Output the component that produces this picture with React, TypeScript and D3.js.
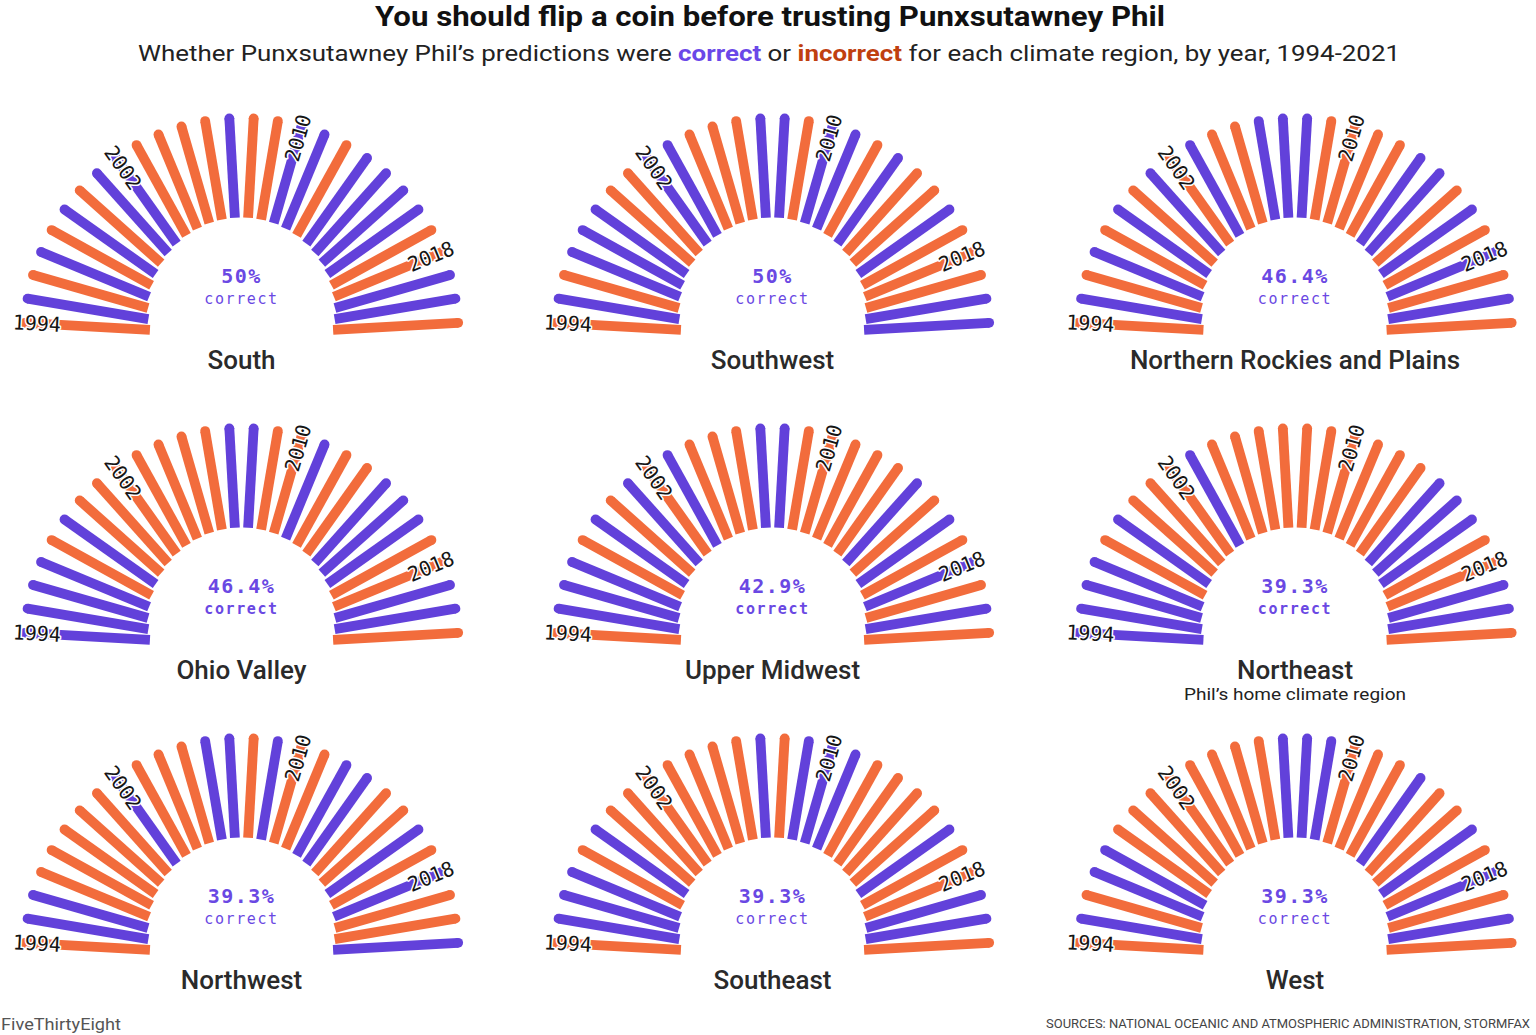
import React, { useEffect } from 'react';
import * as d3 from 'd3';

// ---------- data ----------
const YEARS = [1994, 1995, 1996, 1997, 1998, 1999, 2000, 2001, 2002, 2003, 2004, 2005, 2006, 2007,
  2008, 2009, 2010, 2011, 2012, 2013, 2014, 2015, 2016, 2017, 2018, 2019, 2020, 2021];
const LABEL_YEARS = [1994, 2002, 2010, 2018];

// 1 = correct, 0 = incorrect
const south = [0,1,0,1,0,1,0,1, 1,0,0,0,0,1,0,0, 1,1,0,1,1,1,1,0, 0,1,1,0];
const southwest = [0,1,0,1,1,1,0,0, 1,1,0,0,0,1,1,0, 1,1,0,1,0,0,1,0, 0,0,1,1];
const northernRockies = [0,1,0,1,0,1,0,1, 0,1,0,0,1,1,1,0, 0,0,0,1,1,0,1,0, 1,0,1,0];
const ohioValley = [1,1,1,1,0,1,0,0, 0,0,0,0,0,1,1,0, 0,1,0,0,1,1,1,0, 0,1,1,0];
const upperMidwest = [0,1,1,1,0,1,0,1, 0,1,0,0,0,1,1,0, 0,0,0,0,1,0,1,0, 1,0,1,0];
const northeast = [1,1,1,1,0,1,0,0, 0,1,0,0,0,0,0,0, 0,0,0,0,1,1,1,0, 0,1,1,0];
const northwest = [0,1,1,0,0,0,0,0, 1,0,0,0,1,1,0,1, 0,0,1,1,0,0,1,0, 1,0,0,1];
const southeast = [0,1,1,1,0,1,0,0, 0,0,0,0,0,1,0,1, 1,1,0,0,0,0,1,0, 0,1,1,0];
const west = [0,1,0,1,1,0,0,0, 0,0,0,0,0,1,1,1, 0,0,0,1,0,0,1,0, 1,0,1,0];

const REGION_NAMES = ['South', 'Southwest', 'Northern Rockies and Plains', 'Ohio Valley', 'Upper Midwest',
  'Northeast', 'Northwest', 'Southeast', 'West'];
const REGION_VALUES = [south, southwest, northernRockies, ohioValley, upperMidwest, northeast, northwest, southeast, west];
const PCT_LABELS = ['50%', '50%', '46.4%', '46.4%', '42.9%', '39.3%', '39.3%', '39.3%', '39.3%'];
const REGION_NOTES = ['', '', '', '', '', 'Phil\u2019s home climate region', '', '', ''];

// ---------- style ----------
const W = 1536;
const H = 1035;
const PURPLE = '#6241da';
const ORANGE = '#f26c3c';
const TEXT_PURPLE = '#6a48e3';
const COL_X = [241.5, 772.5, 1295];
const ROW_Y = [335, 645, 955];
const OUTER_R = 217;
const HOLE_R = 93.5;
const HOLE_OFF = 24;
const BAR_W = 9.8;
const LABEL_R = 205;

const angle = d3.scalePoint<number>().domain(YEARS).range([-Math.PI / 2, Math.PI / 2]).padding(0.5);
const color = d3.scaleOrdinal<number, string>().domain([1, 0]).range([PURPLE, ORANGE]);

const innerR = (a: number) =>
  HOLE_OFF * Math.cos(a) + Math.sqrt(HOLE_R * HOLE_R - HOLE_OFF * HOLE_OFF * Math.sin(a) * Math.sin(a));

function Panel({ idx }: { idx: number }) {
  const cx = COL_X[idx % 3];
  const cy = ROW_Y[Math.floor(idx / 3)];
  const values = REGION_VALUES[idx];
  const midRow = Math.floor(idx / 3) === 1;
  return (
    <g transform={`translate(${cx},${cy})`}>
      {YEARS.map((yr, i) => {
        const a = angle(yr) as number;
        const [x1, y1] = d3.pointRadial(a, innerR(a));
        const [x2, y2] = d3.pointRadial(a, OUTER_R);
        const c = color(values[i]);
        return (
          <g key={yr}>
            <line x1={x1} y1={y1} x2={x2} y2={y2} stroke={c} strokeWidth={BAR_W} strokeLinecap="butt" />
            <circle cx={x2} cy={y2} r={BAR_W / 2} fill={c} />
          </g>
        );
      })}
      {LABEL_YEARS.map((yr) => {
        const a = angle(yr) as number;
        const [lx, ly] = d3.pointRadial(a, LABEL_R);
        const deg = (a * 180) / Math.PI;
        const rot = deg < 0 ? deg + 90 : deg - 90;
        return (
          <text
            key={yr}
            transform={`translate(${lx},${ly}) rotate(${rot})`}
            textAnchor="middle"
            dominantBaseline="central"
            fontFamily="'DejaVu Sans Mono', monospace"
            fontSize={20.5}
            fill="#151515"
            stroke="#ffffff"
            strokeWidth={3}
            paintOrder="stroke"
            strokeLinejoin="round"
            textLength={48}
            lengthAdjust="spacingAndGlyphs"
          >
            {yr}
          </text>
        );
      })}
      <text
        x={0}
        y={-59}
        textAnchor="middle"
        dominantBaseline="central"
        fontFamily="'DejaVu Sans Mono', monospace"
        fontWeight={700}
        fontSize={20}
        letterSpacing={1.5}
        fill={TEXT_PURPLE}
      >
        {PCT_LABELS[idx]}
      </text>
      <text
        x={0}
        y={-36}
        textAnchor="middle"
        dominantBaseline="central"
        fontFamily="'DejaVu Sans Mono', monospace"
        fontWeight={midRow ? 700 : 400}
        fontSize={15}
        letterSpacing={1.6}
        fill={TEXT_PURPLE}
      >
        correct
      </text>
      <text
        x={0}
        y={25}
        textAnchor="middle"
        dominantBaseline="central"
        fontFamily="Roboto, 'Noto Sans', sans-serif"
        fontWeight={500}
        fontSize={26}
        fill="#2a2a2a"
      >
        {REGION_NAMES[idx]}
      </text>
      {REGION_NOTES[idx] && (
        <text
          x={0}
          y={49}
          textAnchor="middle"
          dominantBaseline="central"
          fontFamily="Roboto, 'Noto Sans', sans-serif"
          fontSize={17}
          fill="#222"
          textLength={222}
          lengthAdjust="spacingAndGlyphs"
        >
          {REGION_NOTES[idx]}
        </text>
      )}
    </g>
  );
}

export default function App() {
  useEffect(() => {
    document.body.style.margin = '0';
    document.body.style.overflow = 'hidden';
  }, []);
  return (
    <svg width={W} height={H} viewBox={`0 0 ${W} ${H}`} style={{ display: 'block', background: '#fff' }}>
      <rect x={0} y={0} width={W} height={H} fill="#fff" />
      <text
        x={770}
        y={16}
        textAnchor="middle"
        dominantBaseline="central"
        fontFamily="Roboto, 'Noto Sans', sans-serif"
        fontWeight={700}
        fontSize={28}
        fill="#111"
        textLength={790}
        lengthAdjust="spacingAndGlyphs"
      >
        You should flip a coin before trusting Punxsutawney Phil
      </text>
      <text
        x={769}
        y={53}
        textAnchor="middle"
        dominantBaseline="central"
        fontFamily="Roboto, 'Noto Sans', sans-serif"
        fontSize={22.5}
        fill="#222"
        textLength={1262}
        lengthAdjust="spacingAndGlyphs"
      >
        Whether Punxsutawney Phil’s predictions were{' '}
        <tspan fill="#6a48e8" fontWeight={700}>correct</tspan> or{' '}
        <tspan fill="#c0400f" fontWeight={700}>incorrect</tspan> for each climate region, by year, 1994-2021
      </text>
      {REGION_NAMES.map((_, i) => (
        <Panel key={i} idx={i} />
      ))}
      <text
        x={1}
        y={1024}
        dominantBaseline="central"
        fontFamily="Roboto, 'Noto Sans', sans-serif"
        fontSize={16}
        fill="#555"
        textLength={120}
        lengthAdjust="spacingAndGlyphs"
      >
        FiveThirtyEight
      </text>
      <text
        x={1530}
        y={1023}
        textAnchor="end"
        dominantBaseline="central"
        fontFamily="Roboto, 'Noto Sans', sans-serif"
        fontSize={13}
        fill="#444"
        textLength={484}
        lengthAdjust="spacingAndGlyphs"
      >
        SOURCES: NATIONAL OCEANIC AND ATMOSPHERIC ADMINISTRATION, STORMFAX
      </text>
    </svg>
  );
}
